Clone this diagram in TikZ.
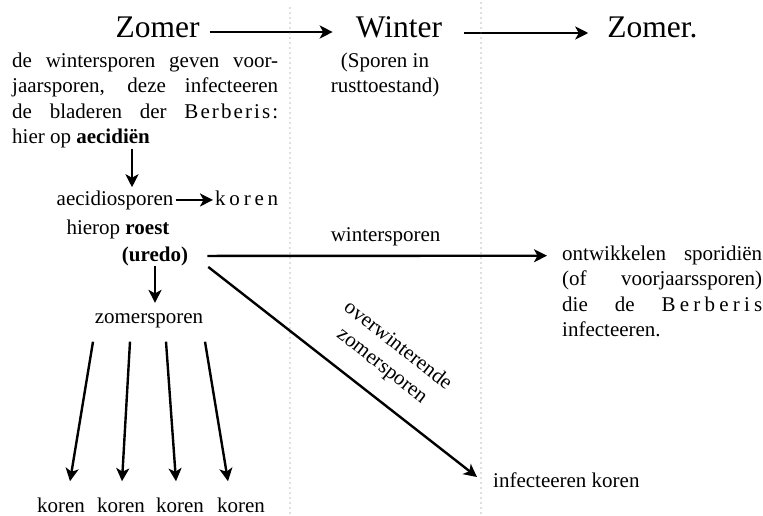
\documentclass[tikz,border=0pt]{standalone}
\usepackage{fontspec}
\setmainfont{Liberation Serif}
\usetikzlibrary{arrows.meta}
\tolerance=9999
\hbadness=10000

\newcommand{\spaced}[2][20]{{\addfontfeature{LetterSpace=#1}#2}}

\tikzset{
	txt/.style = {inner sep=0pt, font=\fontsize{21}{25.5}\selectfont},
	title/.style = {inner sep=0pt, font=\fontsize{31.5}{36}\selectfont},
	arr/.style = {-{Stealth[length=13pt, width=13pt, inset=3.5pt]}, line width=2.4pt},
	dotline/.style = {black!55, line width=1.1pt, line cap=round, dash pattern=on 0pt off 5pt},
}

\begin{document}
\begin{tikzpicture}[x=1pt, y=-1pt]
			\useasboundingbox (0,0) rectangle (763,515);

			% seasons
			\node [title, anchor=base] (zo1) at (157.5,37) {Zomer};
			\node [title, anchor=base] (wi) at (399,37) {Winter};
			\node [title, anchor=base] (zo2) at (652.5,37) {Zomer.};

			\begin{scope}[arr]
				\draw ([xshift=10pt, yshift=5pt]zo1.base east) -- ([xshift=-23pt, yshift=5pt]wi.base west);
				\draw ([xshift=22pt, yshift=4pt]wi.base east) -- ([xshift=-19pt, yshift=4pt]zo2.base west);
			\end{scope}

			\begin{scope}[dotline]
				\draw (290,8) -- (290,515);
				\draw (481,3) -- (481,515);
			\end{scope}

			% summer
			\node [txt, anchor=north west, text width=266pt, align=justify] (le) at (12,52.7)
				{de wintersporen geven voor-\linebreak
				jaarsporen, deze infecteeren\linebreak
				de bladeren der \spaced[10]{Berberis:}\linebreak
				hier op \textbf{aecidiën}};
			\node [txt, anchor=base] (as) at (115,205) {aecidiosporen};
			\node [txt, anchor=base west] (ko) at (215,205) {\spaced[18]{koren}};
			\node [txt, anchor=base] (hr) at (118,234) {hierop \textbf{roest}};
			\node [txt, anchor=base] (ur) at (155,261) {\textbf{(uredo)}};
			\node [txt, anchor=base] (zs) at (149,323) {zomersporen};
			\foreach \i/\x in {1/61, 2/121, 3/180, 4/241}
				\node [txt, anchor=base] (k\i) at (\x,512) {koren};

			% winter
			\node [txt, anchor=north, align=center] (rt) at (385,52.4) {(Sporen in\\rusttoestand)};

			% next summer
			\node [txt, anchor=north west, text width=200pt, align=justify] (sd) at (562,245.7)
				{ontwikkelen sporidiën\linebreak
				(of voorjaarssporen)\linebreak
				die de \spaced{Berberis}\linebreak
				infecteeren.};
			\node [txt, anchor=base west] (ik) at (493,487) {infecteeren koren};

			\begin{scope}[arr]
				\draw ([xshift=17pt]as.north |- le.south) -- ([xshift=17pt, yshift=3pt]as.north);
				\draw [shorten <=2pt, shorten >=2pt] (as.east) -- (as.east -| ko.west);
				\draw (ur.south) -- ([yshift=10pt]ur.south |- zs.north);
				\foreach \i/\dx/\ex in {1/-56/9, 2/-19/1, 3/17/-4, 4/56/-13}
					\draw ([xshift=\dx pt, yshift=-14pt]zs.south) -- ([xshift=\ex pt, yshift=16pt]k\i.north);

				\draw ([xshift=19pt]ur.east) -- ([xshift=-15pt, yshift=-10pt]sd.north west)
					node [txt, pos=0.525, above=9pt] (ws) {wintersporen};
				\draw ([xshift=20pt, yshift=-11pt]ur.east) -- ([xshift=-16pt, yshift=10pt]ik.base west)
					node [txt, pos=0.58, sloped, above=18pt, align=center] (ow) {overwinterende\\zomersporen};
			\end{scope}
		\end{tikzpicture}
\end{document}
